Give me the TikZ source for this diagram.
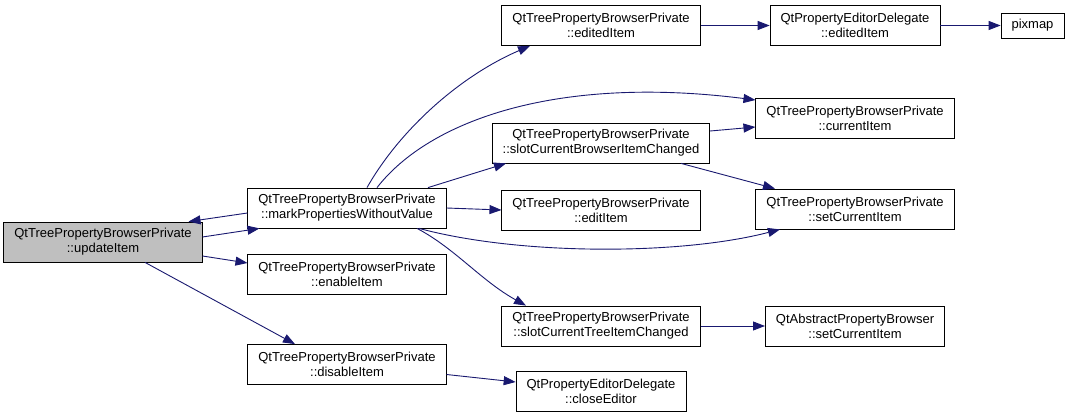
\documentclass[tikz,border=0pt]{standalone}
\usepackage{fontspec}
\setmainfont{Liberation Sans}
\usepackage{xcolor}
\usetikzlibrary{arrows.meta}
\definecolor{cEdge}{HTML}{191970}
\definecolor{cHigh}{HTML}{BFBFBF}
\tikzset{
  fnode/.style={draw=black,fill=#1,line width=0.8pt,align=center,font=\fontsize{13}{15}\selectfont,inner xsep=10.5pt,inner ysep=4pt,minimum height=40pt},
  fnode/.default=white,
  carr/.style={-{Triangle[length=12pt,width=9pt]},line width=0.9pt,color=cEdge},
}

\begin{document}
\begin{tikzpicture}[x=1pt,y=-1pt]
  \fill[white] (0,0) rectangle (1071,417);
  \useasboundingbox (0,0) rectangle (1071,417);
  % call graph nodes
  \node[fnode=cHigh] (upd) at (103,242) {QtTreePropertyBrowserPrivate\\::updateItem};
  \node[fnode] (mark) at (347,208) {QtTreePropertyBrowserPrivate\\::markPropertiesWithoutValue};
  \node[fnode] (enable) at (347,274.5) {QtTreePropertyBrowserPrivate\\::enableItem};
  \node[fnode] (disable) at (347,364.5) {QtTreePropertyBrowserPrivate\\::disableItem};
  \node[fnode] (edited) at (601,25.5) {QtTreePropertyBrowserPrivate\\::editedItem};
  \node[fnode] (slotb) at (601,143) {QtTreePropertyBrowserPrivate\\::slotCurrentBrowserItemChanged};
  \node[fnode] (editi) at (601,210) {QtTreePropertyBrowserPrivate\\::editItem};
  \node[fnode] (slott) at (601,326) {QtTreePropertyBrowserPrivate\\::slotCurrentTreeItemChanged};
  \node[fnode] (close) at (601,391) {QtPropertyEditorDelegate\\::closeEditor};
  \node[fnode] (dedited) at (855,25.5) {QtPropertyEditorDelegate\\::editedItem};
  \node[fnode,minimum height=25pt] (pixmap) at (1032.5,25.5) {pixmap};
  \node[fnode] (cur) at (855,118) {QtTreePropertyBrowserPrivate\\::currentItem};
  \node[fnode] (setc) at (855,209) {QtTreePropertyBrowserPrivate\\::setCurrentItem};
  \node[fnode] (abss) at (855,326) {QtAbstractPropertyBrowser\\::setCurrentItem};
  % calls
  \draw[carr] ([yshift=-5pt]mark.west) -- ([xshift=-14pt]upd.north east);
  \draw[carr] ([yshift=5pt]upd.east) -- ([xshift=12pt]mark.south west);
  \draw[carr] ([yshift=-14pt]upd.east) -- ([yshift=11.5pt]enable.west);
  \draw[carr] ([xshift=42pt]upd.south) -- ([xshift=-52pt]disable.north);
  \draw[carr] ([xshift=20pt]mark.north) .. controls +(33,-58) and +(-70,30) .. ([xshift=-71pt]edited.south);
  \draw[carr] ([xshift=30pt]mark.north) .. controls +(53,-68) and +(-197,-25) .. ([yshift=18pt]cur.west);
  \draw[carr] ([xshift=81pt]mark.north) -- ([xshift=-95pt]slotb.south);
  \draw[carr] (mark.east) -- (editi.west);
  \draw[carr] ([xshift=72pt]mark.south) .. controls +(100,27) and +(-100,26) .. ([xshift=-75pt]setc.south);
  \draw[carr] ([xshift=70pt]mark.south) .. controls +(38,20) and +(-45,-25) .. ([xshift=-75pt]slott.north);
  \draw[carr] ([yshift=12pt]slotb.east) -- ([yshift=-9pt]cur.west);
  \draw[carr] ([xshift=80pt]slotb.south) -- ([xshift=-80pt]setc.north);
  \draw[carr] (edited.east) -- (dedited.west);
  \draw[carr] (dedited.east) -- (pixmap.west);
  \draw[carr] (slott.east) -- (abss.west);
  \draw[carr] ([yshift=-10pt]disable.east) -- ([yshift=9pt]close.west);
\end{tikzpicture}
\end{document}
